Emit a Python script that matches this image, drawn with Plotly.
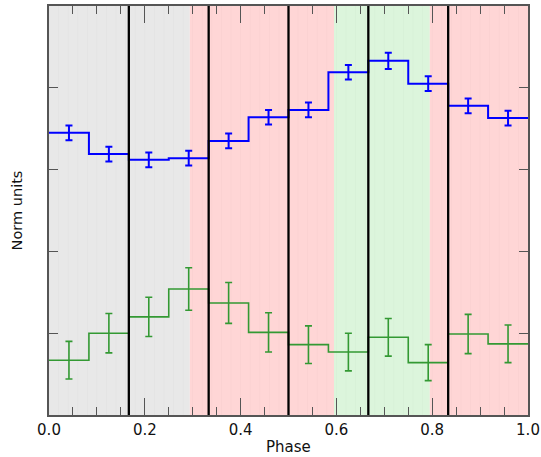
import plotly.graph_objects as go

# ---- data ----
n_bins = 12
bin_edges = [i / n_bins for i in range(n_bins + 1)]
bin_centers = [(i + 0.5) / n_bins for i in range(n_bins)]

blue_vals = [3.45, 3.19, 3.12, 3.14, 3.35, 3.64, 3.73, 4.19, 4.33, 4.05, 3.78, 3.63]
blue_err = [0.09, 0.09, 0.09, 0.09, 0.09, 0.09, 0.09, 0.09, 0.10, 0.09, 0.09, 0.09]

green_vals = [0.67, 1.00, 1.20, 1.54, 1.37, 1.01, 0.86, 0.77, 0.95, 0.64, 0.99, 0.87]
green_err = [0.23, 0.24, 0.24, 0.26, 0.25, 0.24, 0.23, 0.23, 0.23, 0.22, 0.24, 0.23]

# shaded phase regions: (start, end, colour)
region_starts = [0.0, 0.294, 0.595, 0.795]
region_ends = [0.294, 0.595, 0.795, 1.0]
region_colors = ["#e8e8e8", "#ffd6d6", "#dcf5dc", "#ffd6d6"]

# black phase boundaries
boundaries = [1 / 6, 2 / 6, 3 / 6, 4 / 6, 5 / 6]

x_tick_vals = [0, 0.2, 0.4, 0.6, 0.8, 1.0]
x_tick_text = ["0.0", "0.2", "0.4", "0.6", "0.8", "1.0"]
y_ticks = [1, 2, 3, 4]

fig = go.Figure()

shapes = []
for s, e, c in zip(region_starts, region_ends, region_colors):
    shapes.append(dict(type="rect", xref="x", yref="paper", x0=s, x1=e, y0=0, y1=1,
                       fillcolor=c, line=dict(width=0), layer="below"))
# faint stripes
k = 0
while k * 0.02 < 1.0:
    xs = k * 0.02
    shapes.append(dict(type="line", xref="x", yref="paper", x0=xs, x1=xs, y0=0, y1=1,
                       line=dict(color="rgba(0,0,0,0.018)", width=1), layer="below"))
    k += 1
for b in boundaries:
    shapes.append(dict(type="line", xref="x", yref="paper", x0=b, x1=b, y0=0, y1=1,
                       line=dict(color="black", width=2.3), layer="above"))

# step lines
fig.add_trace(go.Scatter(x=bin_edges, y=blue_vals + [blue_vals[-1]], mode="lines",
                         line=dict(color="#0000ff", width=2, shape="hv"),
                         showlegend=False, hoverinfo="skip"))
fig.add_trace(go.Scatter(x=bin_centers, y=blue_vals, mode="markers",
                         marker=dict(size=0.1, color="#0000ff"),
                         error_y=dict(type="data", array=blue_err, color="#0000ff",
                                      thickness=2, width=3.5),
                         showlegend=False))
fig.add_trace(go.Scatter(x=bin_edges, y=green_vals + [green_vals[-1]], mode="lines",
                         line=dict(color="#339933", width=1.6, shape="hv"),
                         showlegend=False, hoverinfo="skip"))
fig.add_trace(go.Scatter(x=bin_centers, y=green_vals, mode="markers",
                         marker=dict(size=0.1, color="#339933"),
                         error_y=dict(type="data", array=green_err, color="#339933",
                                      thickness=1.6, width=3.5),
                         showlegend=False))

fig.update_layout(
    width=541, height=457,
    margin=dict(l=49, r=13, t=6, b=42),
    paper_bgcolor="white", plot_bgcolor="white",
    shapes=shapes,
    font=dict(family="DejaVu Sans", size=15, color="black"),
    xaxis=dict(range=[0, 1], tickvals=x_tick_vals, ticktext=x_tick_text,
               ticks="inside", ticklen=17, tickcolor="#555", tickwidth=1,
               minor=dict(dtick=0.05, ticks="inside", ticklen=8, tickcolor="#555", tickwidth=1),
               showline=True, linecolor="#555", linewidth=1.5, mirror="ticks",
               showgrid=False, zeroline=False, automargin=False,
               tickfont=dict(size=15, color="#111")),
    yaxis=dict(range=[0, 5], tickvals=y_ticks, showticklabels=False,
               ticks="inside", ticklen=9, tickcolor="#555", tickwidth=1,
               showline=True, linecolor="#555", linewidth=1.5, mirror="ticks",
               showgrid=False, zeroline=False, automargin=False),
    annotations=[
        dict(text="Phase", xref="paper", yref="paper", x=0.5, y=-0.078,
             xanchor="center", yanchor="middle", showarrow=False,
             font=dict(size=15, color="#111")),
        dict(text="Norm units", xref="paper", yref="paper", x=-0.067, y=0.5,
             xanchor="center", yanchor="middle", textangle=-90, showarrow=False,
             font=dict(size=14.5, color="#111")),
    ],
)

fig.write_html("out.html", config={"displayModeBar": False},
               post_script="document.body.style.margin='0';document.body.style.overflow='hidden';")
